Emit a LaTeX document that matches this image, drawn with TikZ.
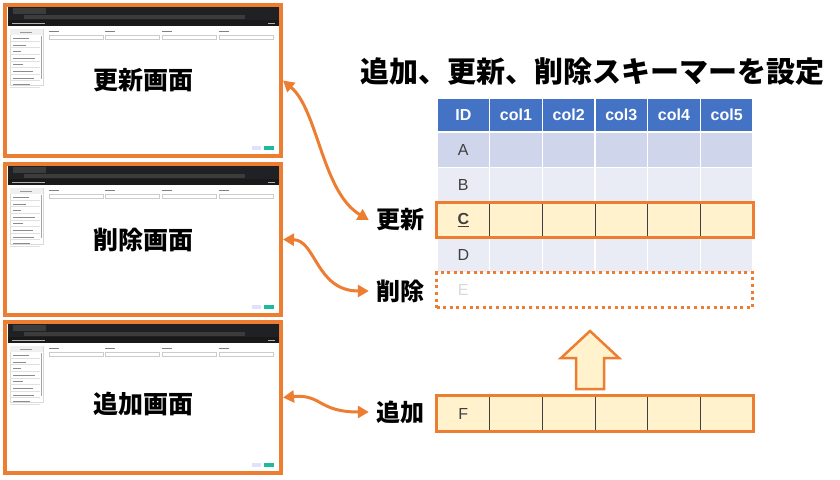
\documentclass[tikz,border=0pt]{standalone}
\usepackage{fontspec}
\newfontfamily\jpfont{Noto Sans CJK JP}
\newfontfamily\tabfont{Liberation Sans}
\usetikzlibrary{arrows.meta}

\definecolor{accent}{HTML}{ED7D31}
\definecolor{headblue}{HTML}{4472C4}
\definecolor{rowdark}{HTML}{CFD5EA}
\definecolor{rowlight}{HTML}{E9EBF5}
\definecolor{hlfill}{HTML}{FFF2CC}
\definecolor{chrome}{HTML}{202124}
\definecolor{chromemid}{HTML}{3C3C3C}
\definecolor{okgreen}{HTML}{1ABC9C}
\definecolor{ghostgray}{HTML}{D9D9D9}

\begin{document}
\begin{tikzpicture}[
    x=1pt, y=-1pt,
    screen/.style={draw=accent, line width=4pt, minimum width=276pt, minimum height=151pt, inner sep=0pt},
    screentitle/.style={font=\jpfont\bfseries\fontsize{25}{25}\selectfont},
    oplabel/.style={font=\jpfont\bfseries\fontsize{24}{24}\selectfont, inner sep=7pt},
    link/.style={{Triangle[length=11pt,width=12pt]}-{Triangle[length=11pt,width=12pt]}, draw=accent, line width=3pt},
    cell/.style={draw=white, line width=1.2pt, minimum width=52.67pt, minimum height=35pt, inner sep=0pt,
        font=\tabfont\fontsize{16}{16}\selectfont, text=black!75},
    headcell/.style={cell, fill=headblue, minimum height=34pt, text=white, font=\tabfont\bfseries\fontsize{16}{16}\selectfont},
    hlcell/.style={cell, fill=hlfill, draw=black!75, line width=0.8pt},
    hlframe/.style={draw=accent, line width=3pt},
    dropframe/.style={draw=accent, line width=3pt, dash pattern=on 3pt off 3.6pt, minimum width=316pt, minimum height=35pt},
    blockarrow/.style={draw=accent, fill=hlfill, line width=2.5pt, line join=miter}
]
    \useasboundingbox (0,0) rectangle (840,479);

    % --- screenshots ---
    \foreach \sy in {0,159,317} {
    \begin{scope}[shift={(0,\sy)}]
        % browser chrome
        \fill[chrome] (8,7) rectangle (279,26);
        \fill[chromemid] (13,8) rectangle (46,13.5);
        \fill[chromemid] (24,14.5) rectangle (245,18.5);
        \fill[black!90] (8,20) rectangle (279,26);
        \fill[white!70!black] (12,22.6) rectangle (45,23.6);
        \fill[white!70!black] (268,22.6) rectangle (275,23.6);
        % side menu
        \draw[black!15, line width=0.5pt] (10,29) rectangle (43,85);
        \fill[black!6] (10,29) rectangle (43,35);
        \fill[black!40] (20,31.6) rectangle (32,32.4);
        \foreach \k/\w in {0/16,1/13,2/8,3/22,4/10,5/20,6/21,7/17} {
            \fill[black!45] (13,{38+6.6*\k}) rectangle ++(\w,0.9);
            \draw[black!12, line width=0.3pt] (10,{41+6.6*\k}) -- (40,{41+6.6*\k});
        }
        \fill[black!35] (40.8,36) rectangle (42.2,79);
        % form
        \foreach \fx in {49,105,162,219} {
            \fill[black!50] (\fx,30.6) rectangle ++(10,0.9);
            \draw[black!20, line width=0.4pt] (\fx,35.5) rectangle ++(54,4);
        }
        % buttons
        \fill[blue!12] (252,146) rectangle (261,150);
        \fill[okgreen] (264,146) rectangle (274,150);
    \end{scope}
    }

    % --- screen frames ---
    \node[screen] (updscr) at (143,80.5) {};
    \node[screen] (delscr) at (143,239.5) {};
    \node[screen] (addscr) at (143,397.5) {};

    \node[screentitle] (updtxt) at (143,80) {更新画面};
    \node[screentitle] (deltxt) at (143,240) {削除画面};
    \node[screentitle] (addtxt) at (143,404) {追加画面};

    % --- title ---
    \node[font=\jpfont\bfseries\fontsize{29}{29}\selectfont] (title) at (592,72) {追加、更新、削除スキーマーを設定};

    % --- table ---
    \foreach \txt [count=\i from 0] in {ID,col1,col2,col3,col4,col5}
        \node[headcell] (h\i) at ({463.3+52.67*\i},115) {\txt};

    \foreach \name/\lbl/\y/\clr in {a/A/150/rowdark, b/B/185/rowlight, d/D/255/rowlight} {
        \node[cell, fill=\clr] (\name0) at (463.3,\y) {\lbl};
        \foreach \i in {1,...,5}
            \node[cell, fill=\clr] (\name\i) at ({463.3+52.67*\i},\y) {};
    }

    % updated row
    \node[hlcell, font=\tabfont\bfseries\fontsize{16}{16}\selectfont] (c0) at (463.3,220) {\underline{C}};
    \foreach \i in {1,...,5}
        \node[hlcell] (c\i) at ({463.3+52.67*\i},220) {};
    \draw[hlframe] (c0.north west) rectangle (c5.south east);

    % deleted row
    \node[dropframe] (erow) at (594.5,290) {};
    \node[cell, draw=none, text=ghostgray] (e0) at (463.3,290) {E};

    % added row
    \node[hlcell] (f0) at (463.3,413.5) {F};
    \foreach \i in {1,...,5}
        \node[hlcell] (f\i) at ({463.3+52.67*\i},413.5) {};
    \draw[hlframe] (f0.north west) rectangle (f5.south east);

    \draw[blockarrow] (590,331) -- (619,358) -- (604,358) -- (604,389) -- (576,389) -- (576,358) -- (561,358) -- cycle;

    % --- labels ---
    \node[oplabel] (updlbl) at (400,220) {更新};
    \node[oplabel] (dellbl) at (400,291) {削除};
    \node[oplabel] (addlbl) at (400,412) {追加};

    \draw[link] (updscr.east) .. controls (318,110) and (322,192) .. (updlbl.west);
    \draw[link] (delscr.east) .. controls (316,240) and (316,291) .. (dellbl.west);
    \draw[link] (addscr.east) .. controls (322,394) and (318,412) .. (addlbl.west);

\end{tikzpicture}
\end{document}
